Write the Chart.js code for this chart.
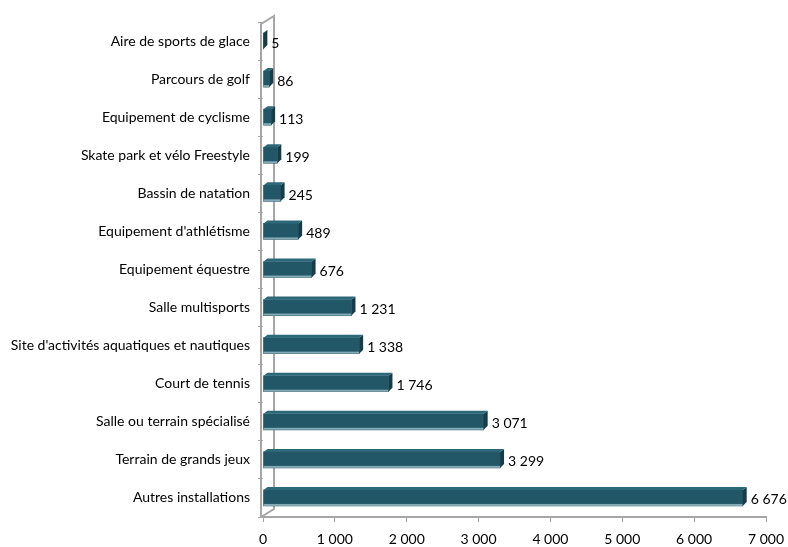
<!DOCTYPE html>
<html>
<head>
<meta charset="utf-8">
<script src="https://cdn.jsdelivr.net/npm/chart.js@4"></script>
<style>
 body{margin:0;background:#fff;}
 #wrap{width:788px;height:547px;}
</style>
</head>
<body>
<div id="wrap"><canvas id="myChart" width="788" height="547"></canvas></div>
<script>
// data, top to bottom
const categories = [
 'Aire de sports de glace',
 'Parcours de golf',
 'Equipement de cyclisme',
 'Skate park et vélo Freestyle',
 'Bassin de natation',
 "Equipement d'athlétisme",
 'Equipement équestre',
 'Salle multisports',
 "Site d'activités aquatiques et nautiques",
 'Court de tennis',
 'Salle ou terrain spécialisé',
 'Terrain de grands jeux',
 'Autres installations'
];
const values = [5, 86, 113, 199, 245, 489, 676, 1231, 1338, 1746, 3071, 3299, 6676];
const xTicks = [0, 1000, 2000, 3000, 4000, 5000, 6000, 7000];

const FONT = "Lato, 'Open Sans', sans-serif";

function fmt(v){
 return String(v).replace(/\B(?=(\d{3})+(?!\d))/g, ' ');
}

// gray 3d wall behind the bars
const wallPlugin = {
 id:'wall',
 beforeDatasetsDraw(chart){
  const {ctx, chartArea} = chart;
  const l = chartArea.left - 2, t = chartArea.top + 2, b = chartArea.bottom;
  const dx = 13, dy = 8;
  ctx.save();
  ctx.strokeStyle = '#a6a6a6';
  ctx.lineWidth = 2;
  ctx.beginPath();
  ctx.moveTo(l, b);
  ctx.lineTo(l, t);
  ctx.lineTo(l+dx, t-dy);
  ctx.lineTo(l+dx, b-dy);
  ctx.lineTo(l, b);
  ctx.stroke();
  ctx.restore();
 }
};

// fake 3d faces + value labels
const barPlugin = {
 id:'bar3d',
 afterDatasetsDraw(chart){
  const {ctx} = chart;
  const meta = chart.getDatasetMeta(0);
  ctx.save();
  meta.data.forEach(function(bar, i){
   const h = bar.height, top = bar.y - h/2, bot = bar.y + h/2;
   // lighter bottom edge
   ctx.fillStyle = '#86aab5';
   ctx.fillRect(bar.base, bot-2, bar.x-bar.base, 2);
   // darker right face
   ctx.fillStyle = '#163c48';
   ctx.beginPath();
   ctx.moveTo(bar.x, top);
   ctx.lineTo(bar.x+4, top-3);
   ctx.lineTo(bar.x+4, bot-4);
   ctx.lineTo(bar.x, bot);
   ctx.closePath();
   ctx.fill();
   // top face
   ctx.fillStyle = '#2d6878';
   ctx.beginPath();
   ctx.moveTo(bar.base, top);
   ctx.lineTo(bar.base+4, top-3);
   ctx.lineTo(bar.x+4, top-3);
   ctx.lineTo(bar.x, top);
   ctx.closePath();
   ctx.fill();
   ctx.fillStyle = '#000';
   ctx.font = '14px ' + FONT;
   ctx.textAlign = 'left';
   ctx.textBaseline = 'middle';
   ctx.fillText(fmt(values[i]), bar.x + 8, bar.y + 2);
  });
  ctx.restore();
 }
};

const config = {
 type:'bar',
 data:{
  labels:categories,
  datasets:[{
   data:values,
   backgroundColor:'#215766',
   borderWidth:0,
   barThickness:16
  }]
 },
 options:{
  indexAxis:'y',
  responsive:false,
  animation:false,
  layout:{padding:{top:22, right:22, left:0, bottom:0}},
  plugins:{legend:{display:false}, tooltip:{enabled:false}},
  scales:{
   x:{
    min:0, max:7000,
    afterBuildTicks(scale){ scale.ticks = xTicks.map(v => ({value:v})); },
    afterFit(scale){ scale.height = 30; scale.paddingLeft = 0; scale.paddingRight = 0; },
    border:{color:'#a6a6a6', width:2},
    grid:{drawOnChartArea:false, color:'#a6a6a6', tickLength:5},
    ticks:{color:'#000', font:{family:FONT, size:14}, padding:9, callback:v => fmt(v)}
   },
   y:{
    afterFit(scale){ scale.width = 263; },
    border:{display:false},
    grid:{drawOnChartArea:false, color:'#a6a6a6', tickLength:5, offset:true},
    ticks:{color:'#000', font:{family:FONT, size:14}, padding:8}
   }
  }
 },
 plugins:[wallPlugin, barPlugin]
};

new Chart(document.getElementById('myChart'), config);
</script>
</body>
</html>
